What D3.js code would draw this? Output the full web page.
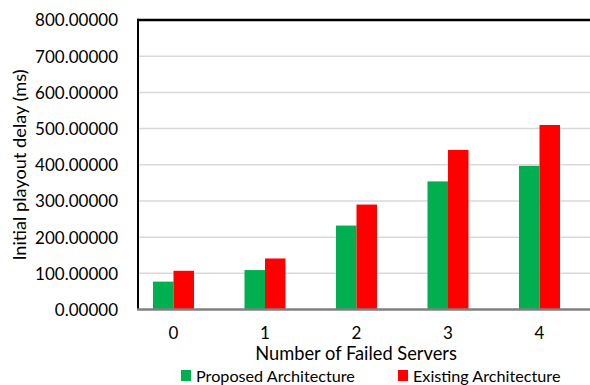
<!DOCTYPE html>
<html>
<head>
<meta charset="utf-8">
<script src="https://cdn.jsdelivr.net/npm/d3@7/dist/d3.min.js"></script>
<style>
  html, body { margin: 0; padding: 0; background: #fff; }
  svg text { font-family: Lato, "Open Sans", sans-serif; fill: #000; }
</style>
</head>
<body>
<svg id="chart" width="590" height="385"></svg>
<script>
// Initial playout delay by number of failed servers
const categories = ["0", "1", "2", "3", "4"];
const seriesNames = ["Proposed Architecture", "Existing Architecture"];
const proposed = [77, 109, 232, 354, 397];
const existing = [107, 141, 290, 441, 510];
const yTicks = [0, 100, 200, 300, 400, 500, 600, 700, 800];
const colors = ["#00b050", "#ff0000"];

const svg = d3.select("#chart");
const plotLeft = 138, plotRight = 592, plotTop = 20, plotBottom = 309.5;

const x = d3.scaleBand().domain(categories).range([127.75, 585.25]).paddingInner(0).paddingOuter(0);
const y = d3.scaleLinear().domain([0, 800]).range([plotBottom, plotTop]);

// gridlines
svg.append("g")
  .selectAll("line")
  .data(yTicks.filter(t => t > 0 && t < 800))
  .join("line")
  .attr("x1", plotLeft).attr("x2", plotRight)
  .attr("y1", d => y(d)).attr("y2", d => y(d))
  .attr("stroke", "#d9d9d9").attr("stroke-width", 1.5);

// bars: two series side by side in each category
const barW = 20.5;
const rows = categories.map((c, i) => ({ c, vals: [proposed[i], existing[i]] }));
const groups = svg.append("g").selectAll("g").data(rows).join("g")
  .attr("transform", d => `translate(${x(d.c) + x.bandwidth() / 2},0)`);
groups.selectAll("rect")
  .data(d => d.vals.map((v, k) => ({ v, k })))
  .join("rect")
  .attr("x", d => (d.k === 0 ? -barW : 0))
  .attr("width", barW)
  .attr("y", d => y(d.v))
  .attr("height", d => y(0) - y(d.v))
  .attr("fill", d => colors[d.k]);

// frame: top and left borders
svg.append("line").attr("x1", plotLeft).attr("x2", plotRight)
  .attr("y1", plotTop).attr("y2", plotTop)
  .attr("stroke", "#000").attr("stroke-width", 2.5);
svg.append("line").attr("x1", plotLeft).attr("x2", plotLeft)
  .attr("y1", plotTop - 1.25).attr("y2", plotBottom)
  .attr("stroke", "#000").attr("stroke-width", 2);

// x axis line
svg.append("line").attr("x1", plotLeft - 1).attr("x2", plotRight)
  .attr("y1", plotBottom).attr("y2", plotBottom)
  .attr("stroke", "#808080").attr("stroke-width", 2.5);

// y tick labels
const yAxis = d3.axisLeft(y).tickValues(yTicks).tickFormat(d3.format(".5f")).tickSize(0).tickPadding(0);
const yg = svg.append("g").attr("transform", "translate(118,0)").call(yAxis);
yg.select(".domain").remove();
yg.selectAll("text").attr("font-size", 17).attr("font-family", "Lato, sans-serif").attr("dy", "0.35em");

// x tick labels
const xAxis = d3.axisBottom(x).tickSize(0).tickPadding(0);
const xg = svg.append("g").attr("transform", "translate(0,334)").call(xAxis);
xg.select(".domain").remove();
xg.selectAll("text").attr("font-size", 17).attr("font-family", "Lato, sans-serif").attr("dy", "0.32em");

// axis titles
svg.append("text").attr("x", 356).attr("y", 354).attr("dy", "0.35em")
  .attr("text-anchor", "middle").attr("font-size", 18.3)
  .text("Number of Failed Servers");
svg.append("text").attr("transform", "translate(20,165) rotate(-90)")
  .attr("dy", "0.35em").attr("text-anchor", "middle").attr("font-size", 18.2)
  .text("Initial playout delay (ms)");

// legend
const legendX = [181, 398];
const lg = svg.append("g").selectAll("g").data(seriesNames).join("g")
  .attr("transform", (d, i) => `translate(${legendX[i]},370)`);
lg.append("rect").attr("width", 10).attr("height", 11).attr("fill", (d, i) => colors[i]);
lg.append("text").attr("x", 15).attr("y", 6).attr("dy", "0.35em")
  .attr("font-size", 16.2).text(d => d);
</script>
</body>
</html>
